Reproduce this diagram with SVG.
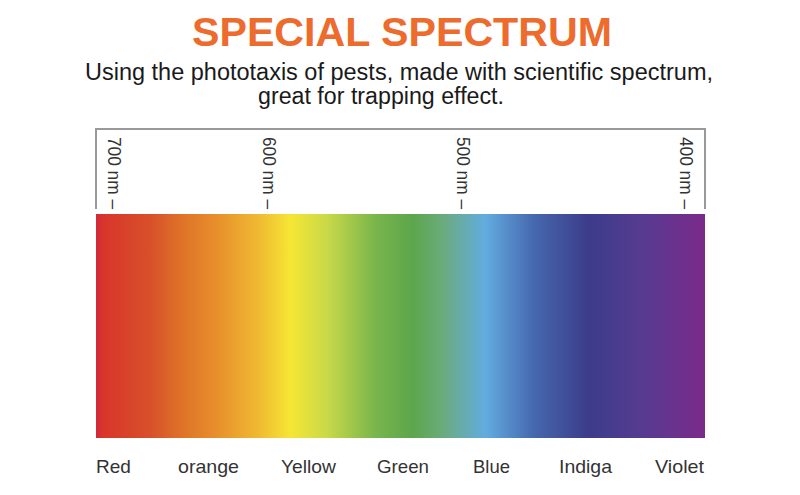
<svg xmlns="http://www.w3.org/2000/svg" width="800" height="495" viewBox="0 0 800 495">
<defs>
<linearGradient id="spec" x1="96" y1="0" x2="704" y2="0" gradientUnits="userSpaceOnUse">
<stop offset="0" stop-color="#d2283c"/>
<stop offset="0.012" stop-color="#d8352b"/>
<stop offset="0.09" stop-color="#d8502a"/>
<stop offset="0.14" stop-color="#de7228"/>
<stop offset="0.2" stop-color="#e8902c"/>
<stop offset="0.27" stop-color="#f0bb32"/>
<stop offset="0.32" stop-color="#f6e634"/>
<stop offset="0.38" stop-color="#c9d948"/>
<stop offset="0.46" stop-color="#79b54c"/>
<stop offset="0.52" stop-color="#5ca64b"/>
<stop offset="0.57" stop-color="#6aab7c"/>
<stop offset="0.64" stop-color="#62ace0"/>
<stop offset="0.72" stop-color="#4668ae"/>
<stop offset="0.81" stop-color="#3c3c8a"/>
<stop offset="0.9" stop-color="#573b91"/>
<stop offset="1" stop-color="#7b2a8b"/>
</linearGradient>
<style>
.title{font-family:"Liberation Sans",Arial,sans-serif;font-weight:bold;font-size:41px;fill:#ec6b2d;text-anchor:middle}
.sub{font-family:"Liberation Sans",Arial,sans-serif;font-size:23px;fill:#1a1a1a;text-anchor:middle}
.tick{font-family:"Liberation Sans",Arial,sans-serif;font-size:18px;fill:#333}
.lab{font-family:"Liberation Sans",Arial,sans-serif;font-size:19px;fill:#333}
.bracket{fill:none;stroke:#999;stroke-width:2}
</style>
</defs>
<rect width="800" height="495" fill="#fff"/>
<g id="title">
<text class="title" x="402" y="46" textLength="420" lengthAdjust="spacingAndGlyphs">SPECIAL SPECTRUM</text>
</g>
<g id="subtitle">
<text class="sub" x="399" y="80" textLength="628" lengthAdjust="spacingAndGlyphs">Using the phototaxis of pests, made with scientific spectrum,</text>
<text class="sub" x="381" y="104" textLength="246" lengthAdjust="spacingAndGlyphs">great for trapping effect.</text>
</g>
<g id="ruler">
<path class="bracket" d="M96 209 V129 H705 V209"/>
<text class="tick" transform="translate(108,137) rotate(90)" textLength="72" lengthAdjust="spacingAndGlyphs">700 nm –</text>
<text class="tick" transform="translate(263,137) rotate(90)" textLength="72" lengthAdjust="spacingAndGlyphs">600 nm –</text>
<text class="tick" transform="translate(457,137) rotate(90)" textLength="72" lengthAdjust="spacingAndGlyphs">500 nm –</text>
<text class="tick" transform="translate(680,137) rotate(90)" textLength="72" lengthAdjust="spacingAndGlyphs">400 nm –</text>
</g>
<g id="spectrum">
<rect x="96" y="214" width="609" height="224" fill="url(#spec)"/>
</g>
<g id="labels">
<text class="lab" x="96" y="473">Red</text>
<text class="lab" x="178" y="473" textLength="61" lengthAdjust="spacingAndGlyphs">orange</text>
<text class="lab" x="281" y="473" textLength="55" lengthAdjust="spacingAndGlyphs">Yellow</text>
<text class="lab" x="377" y="473" textLength="52" lengthAdjust="spacingAndGlyphs">Green</text>
<text class="lab" x="473" y="473" textLength="37" lengthAdjust="spacingAndGlyphs">Blue</text>
<text class="lab" x="559" y="473" textLength="53" lengthAdjust="spacingAndGlyphs">Indiga</text>
<text class="lab" x="655" y="473" textLength="49" lengthAdjust="spacingAndGlyphs">Violet</text>
</g>
</svg>
